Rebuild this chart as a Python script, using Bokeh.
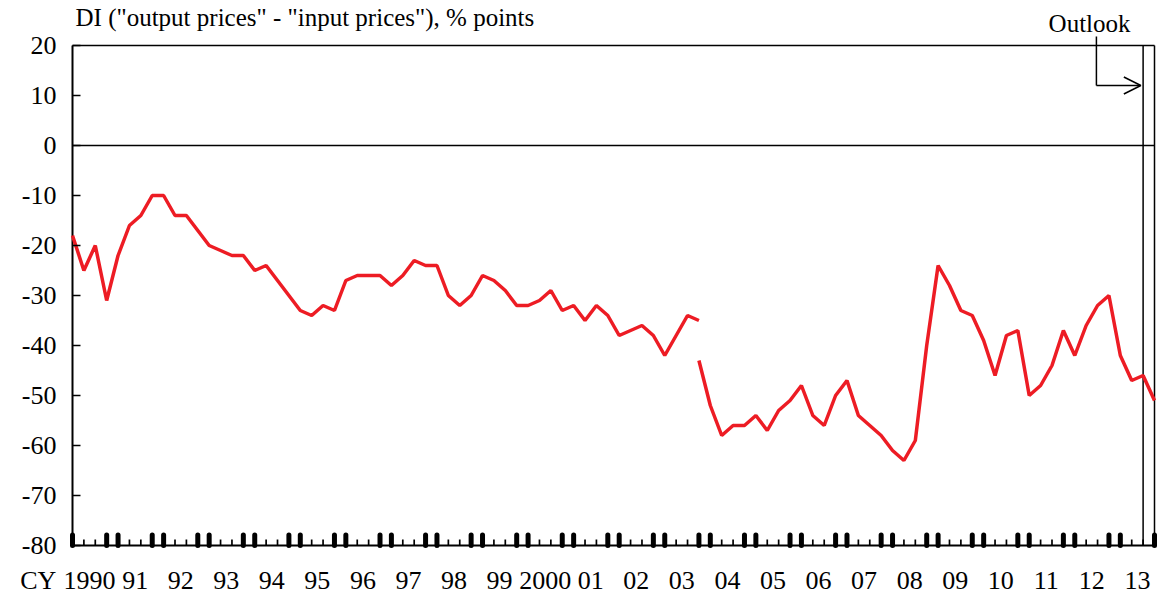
from bokeh.plotting import figure
from bokeh.models import Range1d, FixedTicker, Label, Arrow, OpenHead
from bokeh.embed import file_html
from bokeh.resources import INLINE

# Quarterly DI, 1990Q1 .. 2013Q4 (index 0 .. 95)
year_labels = ["1990", "91", "92", "93", "94", "95", "96", "97", "98", "99",
               "2000", "01", "02", "03", "04", "05", "06", "07", "08", "09",
               "10", "11", "12", "13"]
y_ticks = [-80, -70, -60, -50, -40, -30, -20, -10, 0, 10, 20]
y_tick_labels = ["-80", "-70", "-60", "-50", "-40", "-30", "-20", "-10", "0", "10", "20"]

# old survey basis: 1990Q1 .. 2003Q4
old_series = [-18, -25, -20, -31, -22, -16, -14, -10, -10, -14, -14, -17,
              -20, -21, -22, -22, -25, -24, -27, -30, -33, -34, -32, -33,
              -27, -26, -26, -26, -28, -26, -23, -24, -24, -30, -32, -30,
              -26, -27, -29, -32, -32, -31, -29, -33, -32, -35, -32, -34,
              -38, -37, -36, -38, -42, -38, -34, -35]
# new survey basis: 2003Q4 .. 2013Q4
new_series = [-43, -52, -58, -56, -56, -54, -57, -53, -51, -48, -54, -56,
              -50, -47, -54, -56, -58, -61, -63, -59, -40, -24, -28, -33,
              -34, -39, -46, -38, -37, -50, -48, -44, -37, -42, -36, -32,
              -30, -42, -47, -46, -51]

n_quarters = 96
outlook_start = 94
old_x = list(range(len(old_series)))
new_x = list(range(n_quarters - len(new_series), n_quarters))

FONT = "Liberation Serif"
RED = "#ED1C24"

# layout (pixels)
W, H = 1157, 598
LEFT, RIGHT, TOP, BOTTOM = 72, 3, 45, 53
x_last = n_quarters - 1
y_lo, y_hi = -80, 20
px_x = (W - LEFT - RIGHT) / x_last
px_y = (H - TOP - BOTTOM) / (y_hi - y_lo)
x0 = -LEFT / px_x
x1 = x_last + RIGHT / px_x
yb = y_lo - BOTTOM / px_y
yt = y_hi + TOP / px_y

p = figure(width=W, height=H, x_range=Range1d(x0, x1), y_range=Range1d(yb, yt),
           output_backend="svg", toolbar_location=None, min_border=0)
p.xgrid.visible = False
p.ygrid.visible = False
p.outline_line_color = None
p.background_fill_color = "white"
p.border_fill_color = "white"

# y axis fixed at the start of the series
p.yaxis.fixed_location = 0
p.yaxis.ticker = FixedTicker(ticks=y_ticks)
p.yaxis.major_label_overrides = {t: s for t, s in zip(y_ticks, y_tick_labels)}
p.yaxis.axis_line_color = None
p.yaxis.major_tick_in = 8
p.yaxis.major_tick_out = 0
p.yaxis.minor_tick_line_color = None
p.yaxis.major_tick_line_width = 1.5
p.yaxis.major_tick_line_color = "black"
p.yaxis.major_label_standoff = 16
p.yaxis.major_label_text_font = FONT
p.yaxis.major_label_text_font_size = "26px"
p.yaxis.major_label_text_color = "black"

# x axis fixed at -80: "CY" then year labels centred on each year's quarters
label_pos = [-3] + [4 * k + 1.5 for k in range(len(year_labels))]
label_txt = ["CY"] + year_labels
p.xaxis.fixed_location = y_lo
p.xaxis.ticker = FixedTicker(ticks=label_pos)
p.xaxis.major_label_overrides = {pos: lab for pos, lab in zip(label_pos, label_txt)}
p.xaxis.axis_line_color = None
p.xaxis.major_tick_line_color = None
p.xaxis.minor_tick_line_color = None
p.xaxis.major_tick_out = 0
p.xaxis.major_tick_in = 0
p.xaxis.major_label_standoff = 20
p.xaxis.major_label_text_font = FONT
p.xaxis.major_label_text_font_size = "26px"
p.xaxis.major_label_text_color = "black"

# plot box, zero line, outlook divider
p.segment(x0=[0, 0, 0, x_last, 0, outlook_start],
          y0=[y_lo, y_lo, y_hi, y_lo, 0, y_lo],
          x1=[0, x_last, x_last, x_last, x_last, outlook_start],
          y1=[y_hi, y_lo, y_hi, y_hi, 0, y_hi],
          line_color="black", line_width=[2, 2, 1.5, 1.5, 1.5, 1.5])

# quarter tick marks inside the box
small_x = [i for i in range(n_quarters) if i % 4 in (1, 2)]
bold_x = [i for i in range(n_quarters) if i % 4 in (0, 3)]
p.segment(x0=small_x, y0=y_lo, x1=small_x, y1=y_lo + 1.2, line_color="black", line_width=1.7)
p.segment(x0=bold_x, y0=y_lo, x1=bold_x, y1=y_lo + 2.1, line_color="black", line_width=5,
          line_cap="round")

# series
p.line(old_x, old_series, line_color=RED, line_width=3.5)
p.line(new_x, new_series, line_color=RED, line_width=3.5)

# texts
p.add_layout(Label(x=0, y=y_hi + 28 / px_y, x_offset=3,
                   text='DI ("output prices" - "input prices"), % points',
                   text_font=FONT, text_font_size="25px", text_baseline="alphabetic",
                   text_align="left", text_color="black"))
p.add_layout(Label(x=89.3, y=y_hi + 22 / px_y, text="Outlook", text_font=FONT,
                   text_font_size="25px", text_baseline="alphabetic", text_align="center",
                   text_color="black"))

# outlook arrow
p.add_layout(Arrow(x_start=89.9, y_start=y_hi + 9 / px_y, x_end=89.9, y_end=12, end=None,
                   line_color="black", line_width=1.5))
p.add_layout(Arrow(x_start=89.9, y_start=12, x_end=93.8, y_end=12,
                   end=OpenHead(size=17, line_color="black", line_width=1.5),
                   line_color="black", line_width=1.5))

open("out.html", "w").write(file_html(p, INLINE))
